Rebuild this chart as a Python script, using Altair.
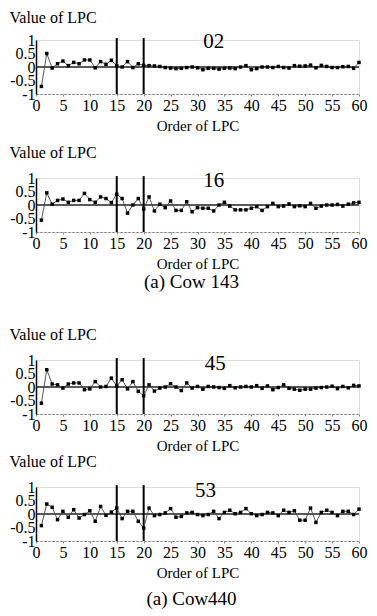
import altair as alt
import pandas as pd

orders = list(range(1, 61))
x_ticks = list(range(0, 61, 5))
y_ticks = [-1, -0.5, 0, 0.5, 1]
split_orders = [15, 20]

v02 = [-0.72, 0.5, -0.04, 0.12, 0.22, 0.05, 0.17, 0.12, 0.26, 0.26,
       -0.03, 0.2, 0.1, 0.25, 0.05, 0.0, 0.2, -0.02, 0.12, 0.06,
       0.05, 0.04, 0.02, -0.02, -0.04, -0.06, -0.05, -0.02, 0.0, -0.03,
       -0.1, -0.05, -0.05, -0.08, -0.05, -0.04, -0.06, 0.0, 0.05, -0.1,
       -0.06, 0.0, 0.0, -0.02, 0.02, -0.02, -0.04, 0.05, 0.03, 0.04,
       0.07, -0.03, 0.06, 0.02, -0.02, -0.02, 0.01, 0.02, -0.05, 0.17]
v16 = [-0.56, 0.45, 0.03, 0.17, 0.22, 0.1, 0.17, 0.17, 0.43, 0.2,
       0.1, 0.3, 0.24, 0.09, 0.4, 0.24, -0.3, 0.0, 0.24, -0.15,
       0.3, -0.22, 0.03, -0.1, 0.15, -0.2, -0.2, 0.12, -0.25, -0.1,
       -0.12, -0.12, -0.22, 0.0, 0.1, -0.04, -0.18, -0.18, -0.18, -0.12,
       -0.06, -0.2, -0.06, 0.06, -0.06, -0.04, 0.04, -0.06, -0.03, -0.06,
       0.06, -0.12, -0.04, 0.0, 0.0, 0.02, -0.04, 0.03, 0.08, 0.1]
v45 = [-0.6, 0.64, 0.11, 0.08, -0.04, 0.11, 0.15, 0.15, -0.1, -0.07,
       0.2, 0.0, 0.02, 0.33, 0.03, 0.27, -0.07, 0.2, -0.16, -0.32,
       0.08, -0.15, -0.04, 0.0, 0.12, 0.0, -0.13, 0.15, -0.04, 0.02,
       -0.08, 0.02, 0.0, -0.02, -0.05, 0.05, -0.03, 0.0, 0.02, 0.0,
       0.05, -0.05, 0.04, -0.1, -0.02, 0.08, -0.05, -0.08, -0.12, -0.08,
       -0.08, -0.04, -0.02, 0.0, 0.03, -0.06, 0.02, -0.03, 0.06, 0.04]
v53 = [-0.43, 0.37, 0.25, -0.21, 0.1, -0.12, 0.16, -0.15, -0.02, 0.12,
       -0.27, 0.28, -0.05, 0.07, 0.22, -0.17, 0.1, 0.1, -0.27, -0.52,
       0.22, -0.06, -0.02, 0.04, 0.2, -0.12, -0.09, 0.04, 0.06, -0.02,
       -0.06, -0.02, 0.1, -0.17, 0.06, 0.14, 0.01, 0.06, 0.2, 0.01,
       -0.06, -0.02, 0.06, 0.04, -0.06, 0.14, 0.06, 0.12, -0.23, -0.23,
       0.22, -0.31, 0.06, 0.14, 0.06, -0.06, 0.1, 0.1, -0.02, 0.18]

labels = ["02", "16", "45", "53"]
label_pos = [(33, 0.92), (33, 0.9), (33.3, 0.86), (31.5, 0.86)]
captions = [None, "(a) Cow 143", None, "(a) Cow440"]
caption_offsets = [0, 2, 0, 10]
title_y = [-23, -26, -26, -26]

FONT = "Liberation Serif"

xscale = alt.Scale(domain=[0, 60], nice=False, zero=False)
yscale = alt.Scale(domain=[-1, 1], nice=False)

xaxis = alt.Axis(values=x_ticks, title="Order of LPC", labelFontSize=16,
                 labelFont=FONT, titleFont=FONT, titleFontSize=15,
                 titleFontWeight="normal", labelPadding=1, titlePadding=5,
                 ticks=True, tickSize=2, tickColor="#888",
                 domainColor="#777", domainDash=[2, 2], domainWidth=1,
                 grid=False, labelOverlap=False, labelColor="black",
                 titleColor="black", labelFlush=False)


def yaxis(ty):
    return alt.Axis(values=y_ticks, title="Value of LPC", labelFontSize=16,
                    labelFont=FONT, titleFont=FONT, titleFontSize=16,
                    titleFontWeight="normal", titleAngle=0, titleAlign="left",
                    titleBaseline="middle", titleX=-27, titleY=ty,
                    labelExpr="toString(datum.value)", labelPadding=1,
                    ticks=False, domainColor="black", domainWidth=1.5,
                    grid=False, labelOverlap=False, labelColor="black",
                    titleColor="black", labelFlush=False)


def panel(values, label, pos, caption, cap_off, ty):
    df = pd.DataFrame({"order": orders, "value": values})
    x = alt.X("order:Q", scale=xscale, axis=xaxis)
    y = alt.Y("value:Q", scale=yscale, axis=yaxis(ty))
    zero = alt.Chart(pd.DataFrame({"value": [0]})).mark_rule(
        color="#222", strokeWidth=1.5).encode(y=y)
    rules = alt.Chart(pd.DataFrame({"order": split_orders, "value": [-1, -1],
                                    "value2": [1.07, 1.07]})).mark_rule(
        color="black", strokeWidth=2, clip=False).encode(
        x=x, y=y, y2="value2:Q")
    line = alt.Chart(df).mark_line(color="#444", strokeWidth=0.9).encode(x=x, y=y)
    pts = alt.Chart(df).mark_square(size=12, color="black", opacity=1).encode(x=x, y=y)
    txt = alt.Chart(pd.DataFrame({"order": [pos[0]], "value": [pos[1]],
                                  "t": [label]})).mark_text(
        font=FONT, fontSize=21, color="black", baseline="middle").encode(
        x=x, y=y, text="t:N")
    ch = alt.layer(zero, rules, line, pts, txt).properties(width=323, height=54)
    if caption:
        ch = ch.properties(title=alt.TitleParams(
            text=caption, orient="bottom", font=FONT, fontSize=19,
            fontWeight="normal", color="black", offset=cap_off, dx=-6))
    return ch


p = [panel(v, l, pos, c, o, ty) for v, l, pos, c, o, ty in
     zip([v02, v16, v45, v53], labels, label_pos, captions, caption_offsets, title_y)]

top = alt.vconcat(p[0], p[1], spacing=9)
bot = alt.vconcat(p[2], p[3], spacing=-2)
chart = alt.vconcat(top, bot, spacing=32).properties(
    padding={"left": 0, "top": 0, "right": 0, "bottom": 0}
).configure_view(stroke=None).configure(
    background="white", font=FONT
).configure_axis(labelFont=FONT, titleFont=FONT).configure_text(font=FONT)

chart.save("out.html", embed_options={"renderer": "svg", "actions": False})
